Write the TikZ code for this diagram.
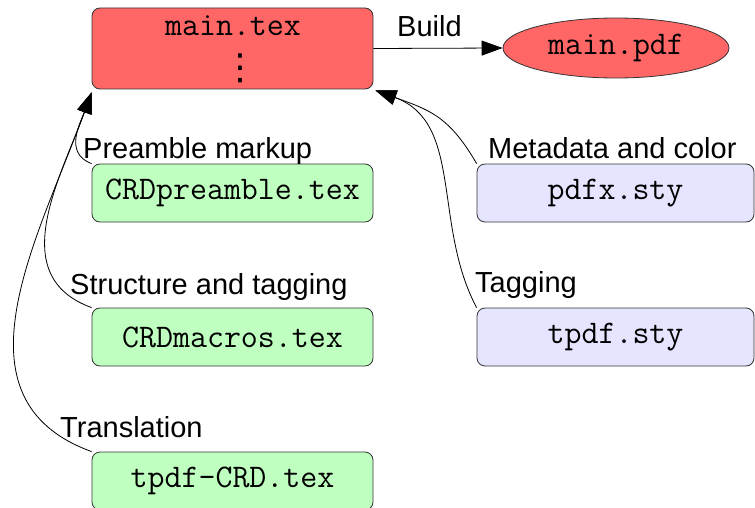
\documentclass[tikz,border=0pt]{standalone}
\usepackage{fontspec}
\setmainfont{Liberation Sans}
\newfontfamily\dejavu{DejaVu Sans}
\usetikzlibrary{shapes.geometric,arrows.meta}
\begin{document}
\begin{tikzpicture}[x=1pt,y=-1pt,
  box/.style={draw=black!80, rounded corners=8pt, line width=0.8pt, minimum height=58pt, inner sep=0pt},
  fbox/.style={box, fill=green!25, minimum width=281pt},
  sbox/.style={box, fill=blue!10, minimum width=277pt},
  mono/.style={font=\fontsize{33}{38}\selectfont\ttfamily},
  lbl/.style={anchor=base west, inner sep=0pt, font=\fontsize{29}{34}\selectfont},
  arr/.style={-{Triangle[length=21pt,width=15pt]}, line width=0.8pt},
]
\useasboundingbox (0,0) rectangle (755,508);
\node[box, fill=red!60, minimum width=281pt, minimum height=81pt] (main) at (232.5,48.5) {};
\node[mono, anchor=base, inner sep=0pt] (maintxt) at (233,36) {main.tex};
\node[inner sep=0pt, font=\fontsize{36}{38}\selectfont\dejavu] (dots) at (240,68) {⋮};
\node[ellipse, draw=black!80, fill=red!60, line width=0.8pt, minimum width=226pt, minimum height=60pt, inner sep=0pt, mono] (pdf) at (616,48) {main.pdf};

\node[fbox, mono] (pre) at (232.5,193) {CRDpreamble.tex};
\node[fbox, mono] (mac) at (232.5,337) {CRDmacros.tex};
\node[fbox, mono] (trn) at (232.5,481) {tpdf-CRD.tex};
\node[sbox, mono] (pdfx) at (615.5,193) {pdfx.sty};
\node[sbox, mono] (tpdf) at (615.5,337) {tpdf.sty};

\node[lbl] (lbuild) at (397,37) {Build};
\node[lbl] (lpre) at (83,158) {Preamble markup};
\node[lbl] (lstr) at (70,294) {Structure and tagging};
\node[lbl] (ltr) at (60,437) {Translation};
\node[lbl] (lmeta) at (488,158) {Metadata and color};
\node[lbl] (ltag) at (475,292) {Tagging};

\draw[arr] (main.east) -- (pdf.west);
\draw[arr] (pre.north west) to[out=160,in=-110,looseness=1.1] ([yshift=-3pt]main.south west);
\draw[arr] (mac.north west) to[out=160,in=-110,looseness=1.1] ([yshift=-3pt]main.south west);
\draw[arr] (trn.north west) to[out=160,in=-110,looseness=1.1] ([yshift=-3pt]main.south west);
\draw[arr] (pdfx.north west) to[out=120,in=-20,looseness=1.15] ([xshift=2pt,yshift=-1pt]main.south east);
\draw[arr] (tpdf.north west) to[out=118,in=-20] ([xshift=2pt,yshift=-1pt]main.south east);
\end{tikzpicture}
\end{document}
